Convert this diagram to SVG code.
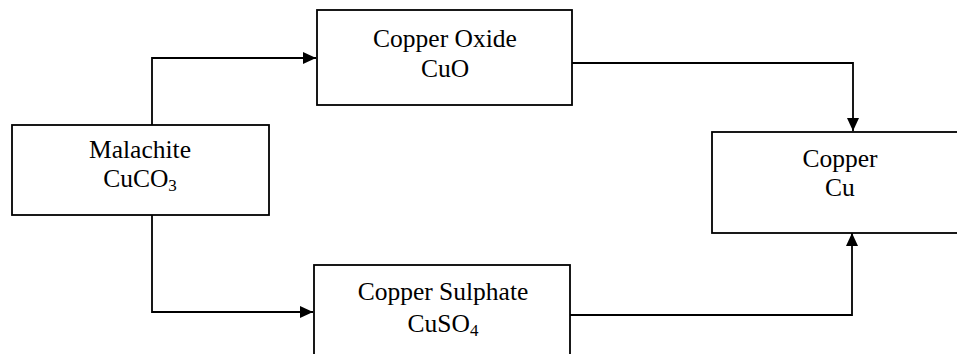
<svg xmlns="http://www.w3.org/2000/svg" width="957" height="354" viewBox="0 0 957 354">
<style>
.box{fill:#fff;stroke:#000;stroke-width:1.8}
.lbl{font-family:"Liberation Serif","Times New Roman",serif;font-size:25.5px;fill:#000;text-anchor:middle}
.sub{font-size:17px}
.conn{fill:none;stroke:#000;stroke-width:1.8}
</style>
<defs>
<marker id="arr" markerUnits="userSpaceOnUse" markerWidth="14" markerHeight="14" viewBox="0 0 14 14" refX="13" refY="7" orient="auto">
<path d="M0,1 L13,7 L0,13 Z" fill="#000"/>
</marker>
</defs>
<rect width="957" height="354" fill="#fff"/>
<g id="connectors">
<path class="conn" d="M152,125 V58 H316" marker-end="url(#arr)"/>
<path class="conn" d="M152,215 V312 H313" marker-end="url(#arr)"/>
<path class="conn" d="M572,63 H853 V131" marker-end="url(#arr)"/>
<path class="conn" d="M570,315 H852 V233" marker-end="url(#arr)"/>
</g>
<g id="malachite">
<rect class="box" x="12" y="125" width="257" height="90"/>
<text class="lbl" x="140" y="158">Malachite</text>
<text class="lbl" x="140" y="187">CuCO<tspan class="sub" dy="4">3</tspan></text>
</g>
<g id="copper-oxide">
<rect class="box" x="317" y="10" width="255" height="95"/>
<text class="lbl" x="445" y="47">Copper Oxide</text>
<text class="lbl" x="445" y="77">CuO</text>
</g>
<g id="copper-sulphate">
<rect class="box" x="314" y="265" width="256" height="100"/>
<text class="lbl" x="443" y="300">Copper Sulphate</text>
<text class="lbl" x="443" y="332">CuSO<tspan class="sub" dy="4">4</tspan></text>
</g>
<g id="copper">
<rect class="box" x="712" y="132" width="260" height="101"/>
<text class="lbl" x="840" y="167">Copper</text>
<text class="lbl" x="840" y="196">Cu</text>
</g>
</svg>
